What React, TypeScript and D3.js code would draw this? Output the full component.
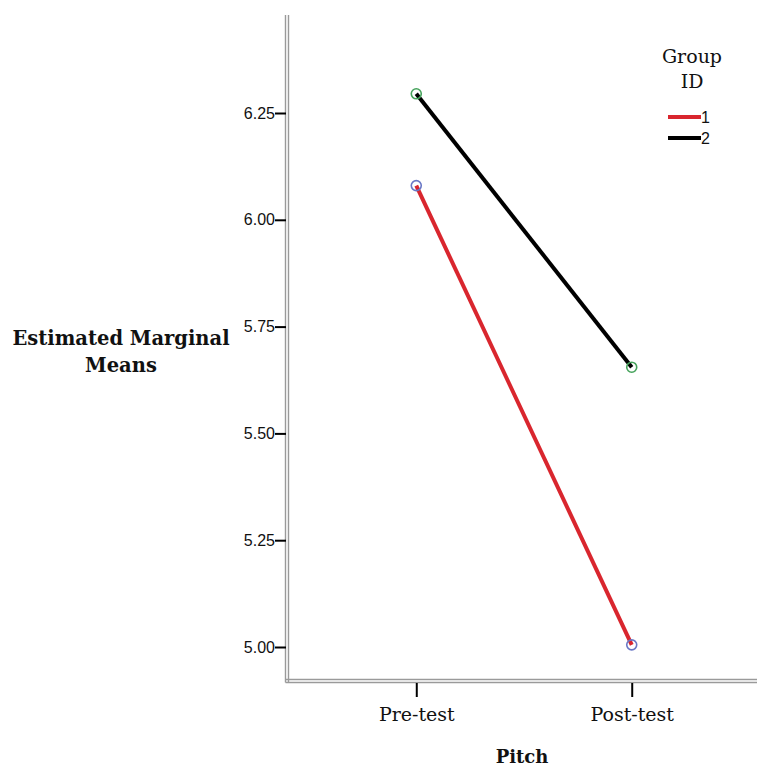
import React from 'react';
import * as d3 from 'd3';

// Estimated marginal means by pitch test phase and group
const phases = ['Pre-test', 'Post-test'];
const groupIds = ['1', '2'];
const group1Means = [6.08, 5.005];
const group2Means = [6.295, 5.655];
const yTicks = [5.0, 5.25, 5.5, 5.75, 6.0, 6.25];

const lineColors = ['#d9262e', '#000000'];
const markerColors = ['#6a78c6', '#46a35c'];

const SERIF = '"DejaVu Serif", serif';
const SANS = '"Liberation Sans", Arial, sans-serif';

function App() {
  const svgRef = React.useRef<SVGSVGElement>(null);

  React.useEffect(() => {
    const w = 757;
    const h = 767;
    const left = 287;
    const top = 15;
    const bottom = 681;

    const svg = d3.select(svgRef.current).attr('width', w).attr('height', h);
    svg.selectAll('*').remove();

    const x = d3.scalePoint<string>().domain(phases).range([left, 761]).padding(0.6);
    const y = d3.scaleLinear().domain([5, 6.25]).range([647, 113]);

    // double grey frame lines (SPSS style)
    const frame = svg.append('g').attr('stroke', '#9a9a9a').attr('stroke-width', 1.4);
    [left - 1.5, left + 1.5].forEach(xx => {
      frame.append('line').attr('x1', xx).attr('x2', xx).attr('y1', top).attr('y2', bottom + 1.5);
    });
    [bottom - 1.5, bottom + 1.5].forEach(yy => {
      frame.append('line').attr('x1', left - 1.5).attr('x2', w).attr('y1', yy).attr('y2', yy);
    });

    // y axis
    const yAxis = d3.axisLeft(y)
      .tickValues(yTicks)
      .tickFormat(d3.format('.2f'))
      .tickSize(11)
      .tickPadding(0);
    const gy = svg.append('g').attr('transform', `translate(${left - 1},0)`).call(yAxis);
    gy.select('.domain').remove();
    gy.selectAll('.tick line').attr('stroke', '#000').attr('stroke-width', 2);
    gy.selectAll('.tick text')
      .attr('font-family', SANS)
      .attr('font-size', 16)
      .attr('fill', '#111');

    // x axis
    const xAxis = d3.axisBottom(x).tickSize(14).tickPadding(11);
    const gx = svg.append('g').attr('transform', `translate(0,${bottom + 2})`).call(xAxis);
    gx.select('.domain').remove();
    gx.selectAll('.tick line').attr('stroke', '#000').attr('stroke-width', 2);
    gx.selectAll('.tick text')
      .attr('font-family', SERIF)
      .attr('font-size', 19)
      .attr('fill', '#111');

    // axis titles
    svg.append('text')
      .attr('x', (left + w) / 2)
      .attr('y', 763)
      .attr('text-anchor', 'middle')
      .attr('font-family', SERIF)
      .attr('font-weight', 'bold')
      .attr('font-size', 18)
      .attr('fill', '#111')
      .text('Pitch');

    const yTitle = svg.append('text')
      .attr('text-anchor', 'middle')
      .attr('font-family', SERIF)
      .attr('font-weight', 'bold')
      .attr('font-size', 19.5)
      .attr('fill', '#111');
    yTitle.append('tspan').attr('x', 121).attr('y', 345).text('Estimated Marginal');
    yTitle.append('tspan').attr('x', 121).attr('y', 372).text('Means');

    // lines and markers
    const series = [group1Means, group2Means];
    const line = d3.line<number>()
      .x((_, i) => x(phases[i]) as number)
      .y(d => y(d));

    series.forEach((vals, gi) => {
      svg.append('path')
        .datum(vals)
        .attr('d', line)
        .attr('fill', 'none')
        .attr('stroke', lineColors[gi])
        .attr('stroke-width', 4);
    });
    series.forEach((vals, gi) => {
      svg.selectAll(`.marker-${gi}`)
        .data(vals)
        .join('circle')
        .attr('class', `marker-${gi}`)
        .attr('cx', (_, i) => x(phases[i]) as number)
        .attr('cy', d => y(d))
        .attr('r', 5)
        .attr('fill', 'none')
        .attr('stroke', markerColors[gi])
        .attr('stroke-width', 1.6);
    });

    // legend
    const legend = svg.append('g');
    legend.append('text')
      .attr('x', 692).attr('y', 63)
      .attr('text-anchor', 'middle')
      .attr('font-family', SERIF).attr('font-size', 19).attr('fill', '#111')
      .text('Group');
    legend.append('text')
      .attr('x', 692).attr('y', 88)
      .attr('text-anchor', 'middle')
      .attr('font-family', SERIF).attr('font-size', 19).attr('fill', '#111')
      .text('ID');

    const items = legend.selectAll('.item')
      .data(groupIds)
      .join('g')
      .attr('class', 'item')
      .attr('transform', (_, i) => `translate(668,${117 + i * 21})`);
    items.append('line')
      .attr('x1', 0).attr('x2', 33)
      .attr('stroke', (_, i) => lineColors[i])
      .attr('stroke-width', 4);
    items.append('text')
      .attr('x', 33).attr('y', 6)
      .attr('font-family', SANS).attr('font-size', 16).attr('fill', '#111')
      .text(d => d);
  }, []);

  return (
    <div style={{ position: 'absolute', left: 0, top: 0, width: 757, height: 767, background: '#fff' }}>
      <svg ref={svgRef} style={{ display: 'block' }}></svg>
    </div>
  );
}

export default App;
